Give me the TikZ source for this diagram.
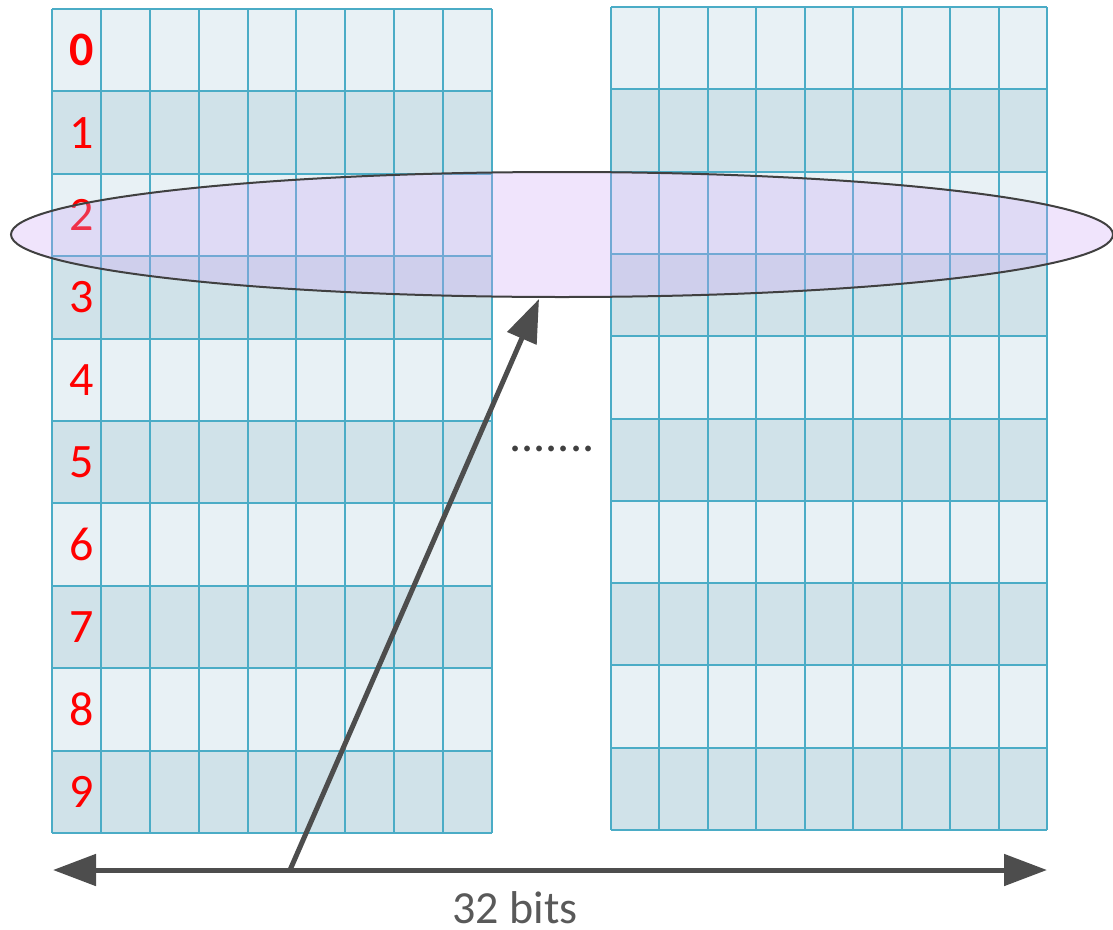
\documentclass[tikz,border=0pt]{standalone}
\usepackage{fontspec}
\setmainfont{Carlito}
\usetikzlibrary{arrows.meta}
\definecolor{gridline}{RGB}{75,172,198}
\definecolor{celllight}{RGB}{232,241,245}
\definecolor{celldark}{RGB}{208,226,233}
\definecolor{ellfill}{RGB}{205,165,245}
\definecolor{arrowgray}{RGB}{77,77,77}
\definecolor{textgray}{RGB}{89,89,89}
\definecolor{dotgray}{RGB}{64,64,64}
\begin{document}
\begin{tikzpicture}[x=1pt,y=-1pt,
  gridstroke/.style={draw=gridline,line width=2pt},
  digit/.style={text=red,font=\fontsize{48}{52}\selectfont,inner sep=0pt},
  bigarrow/.style={draw=arrowgray,line width=5pt,-{Triangle[length=43pt,width=31pt]}},
  ellstyle/.style={draw=dotgray,line width=2pt,fill=ellfill,fill opacity=0.3,draw opacity=1}
]
\useasboundingbox (0,0) rectangle (1113,929);
% left grid
\foreach \r in {0,2,4,6,8} \fill[celllight] (52,{9+82.4*\r}) rectangle (492,{9+82.4*(\r+1)});
\foreach \r in {1,3,5,7,9} \fill[celldark] (52,{9+82.4*\r}) rectangle (492,{9+82.4*(\r+1)});
\foreach \c in {0,...,9} \draw[gridstroke] ({52+48.89*\c},9) -- ({52+48.89*\c},833);
\foreach \r in {0,...,10} \draw[gridstroke] (52,{9+82.4*\r}) -- (492,{9+82.4*\r});
% right grid
\foreach \r in {0,2,4,6,8} \fill[celllight] (611,{7+82.3*\r}) rectangle (1047,{7+82.3*(\r+1)});
\foreach \r in {1,3,5,7,9} \fill[celldark] (611,{7+82.3*\r}) rectangle (1047,{7+82.3*(\r+1)});
\foreach \c in {0,...,9} \draw[gridstroke] ({611+48.44*\c},7) -- ({611+48.44*\c},830);
\foreach \r in {0,...,10} \draw[gridstroke] (611,{7+82.3*\r}) -- (1047,{7+82.3*\r});
% row numbers
\node[digit] (d0) at (82,{9+41.2}) {\textbf{0}};
\foreach \r in {1,...,9} \node[digit] (d\r) at (82,{9+82.4*\r+41.2}) {\r};
% ellipse
\draw[ellstyle] (562,234.5) ellipse [x radius=551, y radius=62.5];
% dots
\node[text=dotgray,font=\fontsize{48}{52}\selectfont,inner sep=0pt] (dots) at (552,449) {.......};
% arrows
\coordinate (left) at (53,870);
\coordinate (right) at (1047,870);
\coordinate (foot) at (290,870);
\coordinate (tip) at (539,299);
\draw[bigarrow,{Triangle[length=43pt,width=31pt]}-{Triangle[length=43pt,width=31pt]}] (left) -- (right);
\draw[bigarrow] (foot) -- (tip);
\node[text=textgray,font=\fontsize{46}{50}\selectfont,inner sep=0pt,anchor=base] (label) at (515,923) {32 bits};
\end{tikzpicture}
\end{document}
